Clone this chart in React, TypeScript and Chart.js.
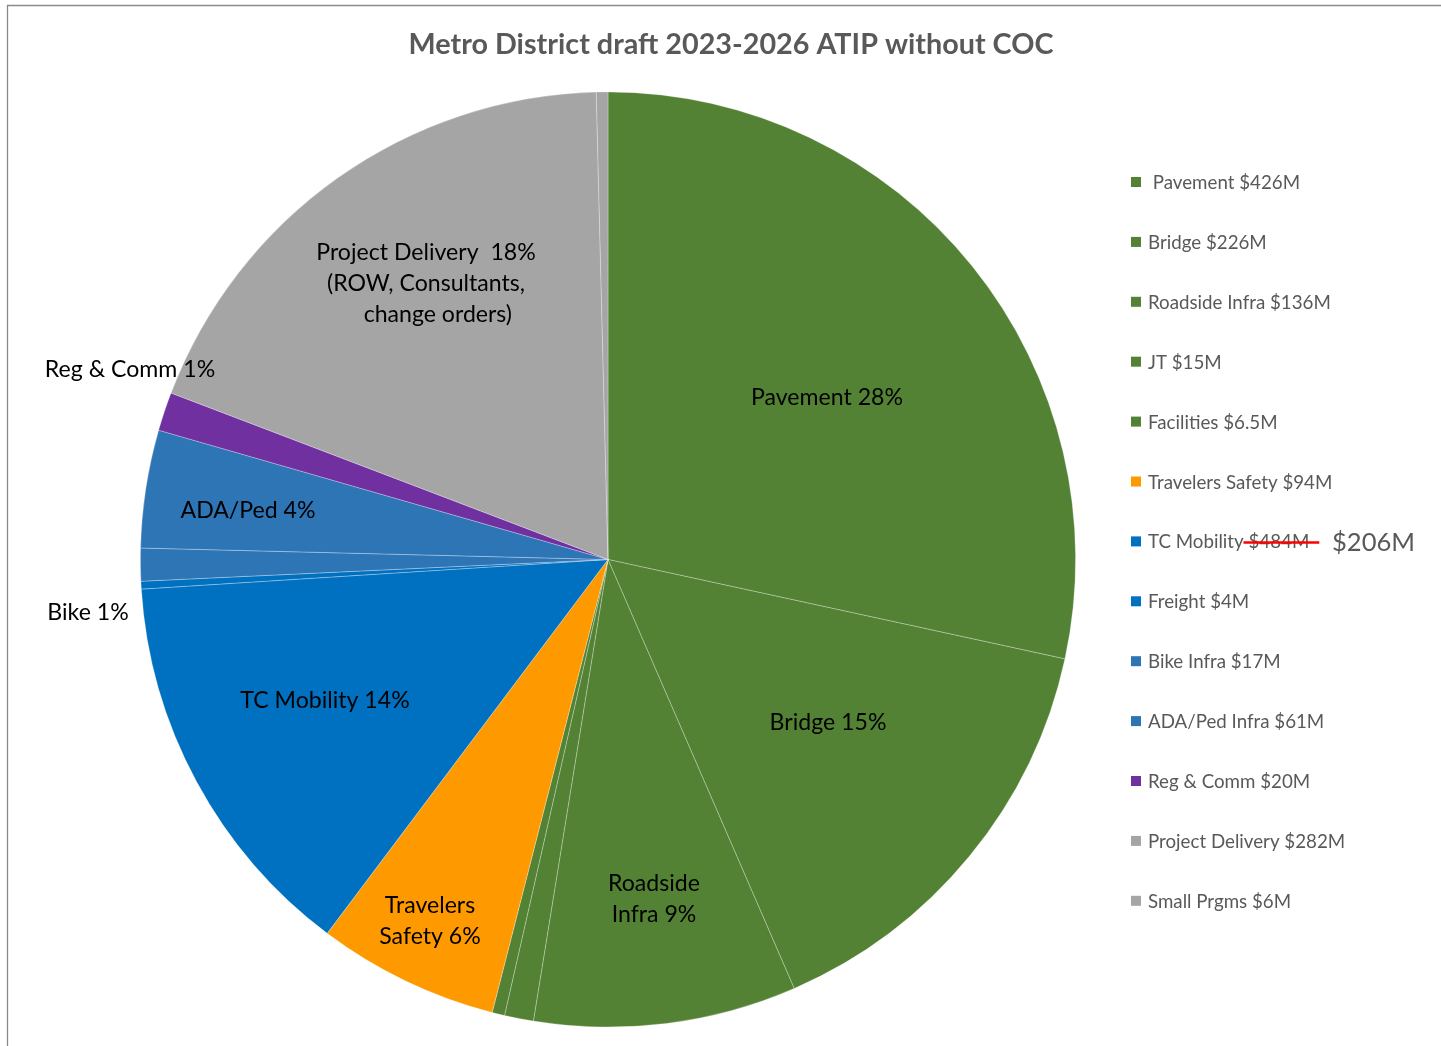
import React, { useEffect, useRef } from "react";
import { Chart, registerables } from "chart.js";

Chart.register(...registerables);

const TITLE = "Metro District draft 2023-2026 ATIP without COC";

const categories = [
  "Pavement",
  "Bridge",
  "Roadside Infra",
  "JT",
  "Facilities",
  "Travelers Safety",
  "TC Mobility",
  "Freight",
  "Bike Infra",
  "ADA/Ped Infra",
  "Reg & Comm",
  "Project Delivery",
  "Small Prgms",
];

// $M values used for the pie (TC Mobility uses the revised $206M)
const amounts = [426, 226, 136, 15, 6.5, 94, 206, 4, 17, 61, 20, 282, 6];

// legend value text as printed
const legendValues = [
  "$426M", "$226M", "$136M", "$15M", "$6.5M", "$94M", "$484M",
  "$4M", "$17M", "$61M", "$20M", "$282M", "$6M",
];
const legendPrefix = [" ", "", "", "", "", "", "", "", "", "", "", "", ""];
const struckIndex = 6;
const revisedValue = "$206M";

const sliceColors = [
  "#548235", "#548235", "#548235", "#548235", "#548235",
  "#FF9900",
  "#0070C0", "#0070C0",
  "#2E75B6", "#2E75B6",
  "#7030A0",
  "#A5A5A5", "#A5A5A5",
];

// data label text per slice (empty = none)
const sliceLabels: string[][] = [
  ["Pavement 28%"],
  ["Bridge 15%"],
  ["Roadside", "Infra 9%"],
  [],
  [],
  ["Travelers", "Safety 6%"],
  ["TC Mobility 14%"],
  [],
  ["Bike 1%"],
  ["ADA/Ped 4%"],
  ["Reg & Comm 1%"],
  ["Project Delivery  18%", "(ROW, Consultants,", "    change orders)"],
  [],
];

// label placement relative to pie centre (layout only)
const labelOffsets: [number, number][] = [
  [219, -162],
  [220, 163],
  [46, 340],
  [0, 0],
  [0, 0],
  [-178, 362],
  [-283, 141],
  [0, 0],
  [-520, 53],
  [-360, -49],
  [-478, -190],
  [-182, -276],
  [0, 0],
];

const FONT = "Lato, 'Open Sans', 'DejaVu Sans', sans-serif";

function fitSize(ctx: CanvasRenderingContext2D, text: string, target: number, weight: string) {
  ctx.font = `${weight} 100px ${FONT}`;
  const w = ctx.measureText(text).width;
  return (100 * target) / w;
}

const overlayPlugin = {
  id: "overlay",
  beforeDraw(chart: any) {
    const ctx: CanvasRenderingContext2D = chart.ctx;
    ctx.save();
    ctx.fillStyle = "#ffffff";
    ctx.fillRect(0, 0, chart.width, chart.height);
    ctx.strokeStyle = "#8a8a8a";
    ctx.lineWidth = 1.3;
    ctx.beginPath();
    ctx.moveTo(7.5, chart.height);
    ctx.lineTo(7.5, 5.5);
    ctx.lineTo(chart.width, 5.5);
    ctx.stroke();
    ctx.restore();
  },
  afterDraw(chart: any) {
    const ctx: CanvasRenderingContext2D = chart.ctx;
    const meta = chart.getDatasetMeta(0);
    const arc0 = meta.data[0];
    const cx = arc0.x;
    const cy = arc0.y;
    ctx.save();

    // title
    const ts = fitSize(ctx, TITLE, 645, "bold");
    ctx.font = `bold ${ts}px ${FONT}`;
    ctx.fillStyle = "#595959";
    ctx.textAlign = "center";
    ctx.textBaseline = "middle";
    ctx.fillText(TITLE, 731, 45);

    // slice labels
    const ls = fitSize(ctx, "Pavement 28%", 152, "normal");
    ctx.font = `normal ${ls}px ${FONT}`;
    ctx.fillStyle = "#000000";
    sliceLabels.forEach((lines, i) => {
      if (!lines.length) return;
      const [dx, dy] = labelOffsets[i];
      const lh = 31;
      const y0 = cy + dy - ((lines.length - 1) * lh) / 2;
      lines.forEach((t, k) => {
        ctx.fillText(t, cx + dx, y0 + k * lh);
      });
    });

    // legend
    const gs = fitSize(ctx, "Roadside Infra $136M", 183, "normal");
    const lx = 1131;
    const tx = 1148;
    const top = 182;
    const step = 59.9;
    ctx.textAlign = "left";
    categories.forEach((c, i) => {
      const y = top + i * step;
      ctx.fillStyle = sliceColors[i];
      ctx.fillRect(lx, y - 5, 10, 10);
      ctx.font = `normal ${gs}px ${FONT}`;
      ctx.fillStyle = "#595959";
      const prefix = legendPrefix[i] + c + " ";
      const full = prefix + legendValues[i];
      ctx.fillText(full, tx, y + 1);
      if (i === struckIndex) {
        const pw = ctx.measureText(prefix).width;
        const vw = ctx.measureText(legendValues[i]).width;
        ctx.strokeStyle = "#FF0000";
        ctx.lineWidth = 2.5;
        ctx.beginPath();
        ctx.moveTo(tx + pw - 5, y + 1);
        ctx.lineTo(tx + pw + vw + 10, y + 1);
        ctx.stroke();
        const bs = fitSize(ctx, revisedValue, 83, "normal");
        ctx.font = `normal ${bs}px ${FONT}`;
        ctx.fillStyle = "#595959";
        ctx.fillText(revisedValue, 1332, y + 1);
      }
    });
    ctx.restore();
  },
};

export default function App() {
  const ref = useRef<HTMLCanvasElement>(null);
  useEffect(() => {
    document.body.style.margin = "0";
    const chart = new Chart(ref.current as HTMLCanvasElement, {
      type: "pie",
      data: {
        labels: categories,
        datasets: [
          {
            data: amounts,
            backgroundColor: sliceColors,
            borderColor: "rgba(255,255,255,0.35)",
            borderWidth: 0.8,
          },
        ],
      },
      options: {
        animation: false,
        responsive: false,
        devicePixelRatio: 1,
        layout: { padding: { left: 140, right: 365, top: 91, bottom: 18 } },
        plugins: {
          legend: { display: false },
          title: { display: false },
          tooltip: { enabled: false },
        },
      },
      plugins: [overlayPlugin],
    });
    return () => chart.destroy();
  }, []);
  return (
    <div style={{ position: "absolute", left: 0, top: 0, width: 1441, height: 1046 }}>
      <canvas ref={ref} width={1441} height={1046} />
    </div>
  );
}
